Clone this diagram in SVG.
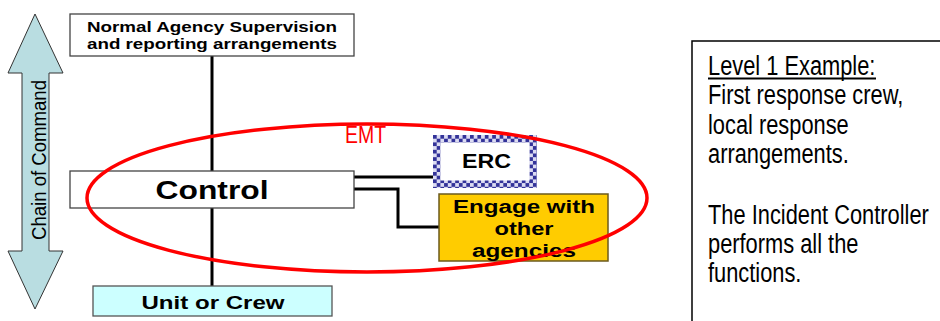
<svg xmlns="http://www.w3.org/2000/svg" width="940" height="321" viewBox="0 0 940 321">
<defs>
<style>
.box{fill:#ffffff;stroke:#444444;stroke-width:1.3}
.bt{font-family:"Liberation Sans",Arial,sans-serif;font-weight:bold;fill:#000000;text-anchor:middle}
.conn{fill:none;stroke:#000000;stroke-width:3}
.note{font-family:"Liberation Sans",Arial,sans-serif;font-size:28px;fill:#000000}
</style>
<pattern id="chk" patternUnits="userSpaceOnUse" x="433" y="135" width="7.4" height="7.4">
<rect x="0" y="0" width="7.4" height="7.4" fill="#dcdcf2"/>
<rect x="0" y="0" width="3.7" height="3.7" fill="#333399"/>
<rect x="3.7" y="3.7" width="3.7" height="3.7" fill="#333399"/>
</pattern>
</defs>
<rect x="0" y="0" width="940" height="321" fill="#ffffff"/>

<g id="chain-of-command">
<path d="M35,14 L63,73 L49,73 L49,251 L63,251 L35,309 L8,251 L22,251 L22,73 L8,73 Z" fill="#b9dde1" stroke="#333333" stroke-width="1"/>
<text x="0" y="0" transform="translate(45.5,160) rotate(-90)" font-family="'Liberation Sans',Arial,sans-serif" font-size="21" text-anchor="middle" textLength="160" lengthAdjust="spacingAndGlyphs" fill="#000000">Chain of Command</text>
</g>

<g id="connectors">
<line class="conn" x1="212" y1="56" x2="212" y2="171"/>
<line class="conn" x1="212" y1="208" x2="212" y2="286"/>
<line class="conn" x1="354" y1="177" x2="433" y2="177"/>
<polyline class="conn" points="354,189 398,189 398,227 439,227"/>
</g>

<g id="supervision">
<rect class="box" x="70" y="14" width="284" height="42"/>
<text class="bt" x="212" y="32" font-size="15" textLength="250" lengthAdjust="spacingAndGlyphs">Normal Agency Supervision</text>
<text class="bt" x="212" y="48.5" font-size="15" textLength="250" lengthAdjust="spacingAndGlyphs">and reporting arrangements</text>
</g>

<g id="control">
<rect class="box" x="70" y="171" width="284" height="37"/>
<text class="bt" x="212" y="199" font-size="26" textLength="113" lengthAdjust="spacingAndGlyphs">Control</text>
</g>

<g id="unit-crew">
<rect x="93" y="286" width="239" height="30" fill="#ccffff" stroke="#555555" stroke-width="1.3"/>
<text class="bt" x="213" y="309" font-size="17.5" textLength="143" lengthAdjust="spacingAndGlyphs">Unit or Crew</text>
</g>

<g id="erc">
<path d="M433,135 H537 V188 H433 Z M440.4,142.4 V180.6 H529.6 V142.4 Z" fill="url(#chk)" fill-rule="evenodd"/>
<text class="bt" x="486.5" y="168" font-size="19.5" textLength="49" lengthAdjust="spacingAndGlyphs">ERC</text>
</g>

<g id="engage">
<rect x="439" y="194" width="169" height="67" fill="#ffcc00" stroke="#6b5a1e" stroke-width="1.5"/>
<text class="bt" x="524" y="213" font-size="18" textLength="142" lengthAdjust="spacingAndGlyphs">Engage with</text>
<text class="bt" x="524" y="235" font-size="18" textLength="59" lengthAdjust="spacingAndGlyphs">other</text>
<text class="bt" x="524" y="257" font-size="18" textLength="104" lengthAdjust="spacingAndGlyphs">agencies</text>
</g>

<g id="emt">
<ellipse cx="367" cy="198" rx="280" ry="74" fill="none" stroke="#ff0000" stroke-width="3.5"/>
<text x="345" y="143" font-family="'Liberation Sans',Arial,sans-serif" font-size="24" fill="#ff0000" textLength="41" lengthAdjust="spacingAndGlyphs">EMT</text>
</g>

<g id="level-note">
<rect x="692" y="41" width="260" height="300" fill="#ffffff" stroke="#000000" stroke-width="1.5"/>
<g transform="translate(708,0) scale(0.78,1)">
<text class="note" x="0" y="75">Level 1 Example:</text>
<text class="note" x="0" y="104.5">First response crew,</text>
<text class="note" x="0" y="134">local response</text>
<text class="note" x="0" y="163.5">arrangements.</text>
<text class="note" x="0" y="224">The Incident Controller</text>
<text class="note" x="0" y="253">performs all the</text>
<text class="note" x="0" y="282">functions.</text>
</g>
<line x1="708" y1="78.5" x2="876" y2="78.5" stroke="#000000" stroke-width="1.8"/>
</g>
</svg>
